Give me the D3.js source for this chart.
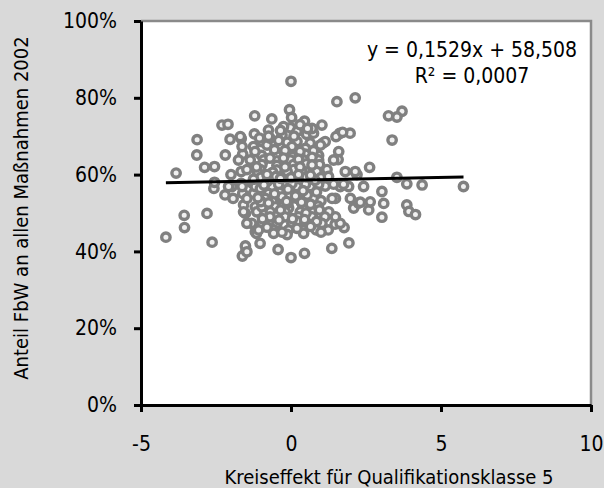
<!DOCTYPE html>
<html>
<head>
<meta charset="utf-8">
<script src="https://cdn.jsdelivr.net/npm/d3@7"></script>
<style>
  body { margin: 0; background: #d9d9d9; }
  svg { display: block; }
  .axis path, .axis line { stroke: #000; stroke-width: 3; }
  .axis text { font-family: "DejaVu Sans Condensed", "DejaVu Sans", sans-serif; font-size: 21px; fill: #000; }
  .label { font-family: "DejaVu Sans Condensed", "DejaVu Sans", sans-serif; font-size: 21px; fill: #000; }
  .title { font-family: "DejaVu Sans Condensed", "DejaVu Sans", sans-serif; font-size: 20px; fill: #000; }
</style>
</head>
<body>
<div id="graph"></div>
<script>
// Kreiseffekt (x) and Anteil FbW in % (y)
var effect = [
  0.00, 2.14, 1.53, 3.70, 3.53, 3.25, 3.37, -1.21, -0.05, -0.64,
  -2.30, -2.10, 1.03, 0.45, 0.02, -3.13, -3.14, -2.03, -1.66, -2.19,
  -2.55, -2.88, -3.83, -4.17, -3.56, -3.55, -2.80, -2.63, -2.57, -2.55,
  -2.20, -1.93, -1.62, -1.50, -1.52, -1.03, -0.43, 0.00, 0.45, 1.36,
  1.93, 1.77, 1.47, 2.09, 2.59, 3.03, 3.09, 3.03, 2.64, 2.25,
  2.62, 1.97, 1.62, 1.50, 1.57, 1.06, 3.53, 3.86, 4.37, 5.75,
  3.86, 3.93, 4.15, 2.20, 2.14, 1.81, 2.42, 2.31, 1.98, 1.92,
  1.64, 1.75, 1.48, 1.64, 1.48, 1.26, 1.24, 1.37, 1.42, 1.42,
  1.59, 1.20, 1.14, 1.14, 1.72, -1.69, -1.22, -1.61, -1.25, -1.63,
  -1.66, -1.31, -1.75, -1.36, -1.47, -1.97, -1.61, -1.25, -1.66, -1.28,
  -1.52, -1.31, -1.58, -1.19, -1.19, -1.47, -1.58, -1.14, -1.47, -1.15,
  -2.08, -1.63, -1.19, -1.47, -0.02, -0.75, -0.30, 0.52, -0.25, 0.20,
  0.75, -0.98, -0.58, -0.13, 0.20, 0.64, -0.80, -0.41, 0.03, 0.48,
  0.98, -0.98, -0.47, 0.03, 0.48, 0.92, -0.91, -0.47, -0.02, 0.42,
  0.92, -0.97, -0.47, 0.08, 0.51, 0.95, -1.02, -0.47, 0.09, 0.75,
  -1.12, -0.61, -0.13, 0.36, 0.86, -0.63, -0.25, 0.20, 0.64, -0.41,
  0.03, 0.48, 0.92, -1.02, -0.75, -0.86, -0.36, 0.20, 0.75, -0.30,
  0.15, 0.54, 1.00, -0.97, -0.52, -0.08, 0.40, -0.69, -0.19, 0.31,
  0.75, -0.70, -0.20, 0.25, 0.70, 1.13, -0.97, -0.47, 0.03, 0.53,
  1.03, -1.08, -0.58, -0.08, 0.41, 0.84, -0.58, -0.13, 0.42, -1.00,
  -0.50, 0.00, 0.50, 1.00, 0.30, -0.20, -0.70, 0.70, 0.30, -1.00,
  -0.10, 0.90, 0.20, -0.80, 0.80, -2.00, -0.75, -0.35, 0.10, 0.55,
  -1.05, -0.55, 0.75, -1.20, -0.25, 0.25, 0.70, -0.70, -1.15, -0.20,
  0.30, 0.70, -0.80, 0.25, 0.65, -0.35, -1.25, 1.25, -0.90, -0.10,
  0.40, 0.85, -0.55, -1.10, -0.15, 0.35, 0.65, -0.75, -0.35, 0.50,
  0.95, -0.95, -0.40, 0.05, 0.45, 0.85, -0.80, 0.20, 0.65, -0.30,
  1.00
];
var share = [
  84.3, 80.0, 79.0, 76.5, 75.0, 75.3, 69.0, 75.3, 76.9, 74.5,
  72.9, 73.1, 72.9, 73.9, 74.9, 69.1, 65.1, 69.2, 69.4, 65.1,
  62.1, 61.9, 60.4, 43.7, 49.4, 46.2, 49.9, 42.4, 56.4, 58.0,
  54.7, 53.8, 38.8, 40.3, 41.4, 42.1, 40.5, 38.4, 39.5, 40.8,
  42.2, 46.2, 47.1, 51.3, 50.8, 48.9, 52.5, 55.6, 52.9, 52.6,
  61.9, 70.8, 70.7, 69.9, 63.9, 68.2, 59.3, 57.6, 57.3, 56.9,
  52.1, 50.4, 49.6, 60.0, 60.8, 60.8, 56.9, 52.8, 53.8, 56.9,
  56.9, 57.5, 53.8, 47.3, 49.0, 50.3, 45.6, 53.8, 57.5, 63.8,
  66.0, 61.3, 68.6, 57.0, 71.0, 69.9, 70.6, 65.3, 67.3, 67.3,
  60.8, 62.5, 63.8, 63.8, 61.3, 56.9, 55.1, 55.1, 57.7, 57.7,
  49.9, 47.3, 52.1, 51.6, 45.1, 53.8, 50.3, 50.3, 47.3, 44.7,
  56.9, 56.9, 56.9, 39.9, 72.2, 71.6, 70.3, 70.5, 72.5, 71.2,
  70.8, 68.6, 67.9, 68.4, 68.6, 68.2, 67.7, 68.9, 67.3, 66.8,
  67.7, 65.0, 65.0, 64.7, 65.3, 65.0, 63.8, 63.6, 63.8, 63.8,
  63.8, 62.6, 62.4, 62.6, 62.8, 62.6, 61.3, 61.2, 61.3, 61.3,
  60.8, 60.6, 60.8, 60.8, 60.8, 56.9, 57.2, 56.9, 56.9, 57.5,
  57.7, 57.5, 57.5, 56.4, 55.1, 53.8, 53.8, 53.8, 53.8, 54.2,
  54.4, 54.7, 53.2, 51.6, 51.6, 51.3, 51.6, 50.3, 50.3, 50.3,
  50.3, 49.0, 49.0, 49.0, 49.0, 49.0, 47.3, 47.3, 47.3, 47.3,
  47.3, 45.6, 45.6, 45.6, 45.6, 45.6, 44.7, 44.4, 44.7, 59.3,
  59.5, 59.2, 59.4, 59.2, 66.0, 66.3, 69.5, 72.0, 73.0, 53.0,
  52.6, 51.8, 47.9, 58.2, 58.5, 60.0, 70.0, 71.5, 70.0, 72.0,
  69.5, 66.5, 66.2, 66.0, 64.3, 64.0, 64.5, 64.3, 62.0, 62.0,
  62.0, 62.5, 60.0, 60.0, 59.8, 59.0, 58.8, 59.5, 57.3, 56.2,
  55.8, 55.5, 55.0, 54.0, 53.0, 52.8, 52.3, 52.6, 50.8, 50.0,
  50.8, 48.5, 48.2, 48.5, 48.3, 47.8, 46.3, 46.0, 46.5, 45.0,
  45.0
];

var xTicks = [-5, 0, 5, 10];
var yTicks = [0, 20, 40, 60, 80, 100];

// trendline as printed in the chart
var slope = 0.1529;
var intercept = 58.508;
var equationText = "y = 0,1529x + 58,508";
var rSquaredText = "R² = 0,0007";

var margin = {top: 21, right: 13, bottom: 83, left: 141},
  width = 604 - margin.left - margin.right,
  height = 488 - margin.top - margin.bottom;

var x = d3.scaleLinear().domain([-5, 10]).range([0, width]);
var y = d3.scaleLinear().domain([0, 100]).range([height, 0]);

var svg = d3.select("#graph")
  .append("svg")
  .attr("width", 604)
  .attr("height", 488);

var g = svg.append("g")
  .attr("transform", "translate(" + margin.left + "," + margin.top + ")");

// plot area
g.append("rect")
  .attr("width", width)
  .attr("height", height)
  .attr("fill", "#fff");

// grey frame on top and right
g.append("path")
  .attr("d", "M0,0H" + width + "V" + height)
  .attr("fill", "none")
  .attr("stroke", "#8a8a8a")
  .attr("stroke-width", 2.5);

var data = effect.map(function (d, i) {
  return {x: d, y: share[i]};
});

// markers
g.selectAll("circle.pt")
  .data(data)
  .enter()
  .append("circle")
  .attr("class", "pt")
  .attr("cx", function (d) { return x(d.x); })
  .attr("cy", function (d) { return y(d.y); })
  .attr("r", 4.2)
  .attr("fill", "#f0f0f0")
  .attr("stroke", "#808080")
  .attr("stroke-width", 3.4);

// linear trendline over the data range
var xExtent = d3.extent(effect);
var trendline = d3.line()
  .x(function (d) { return x(d); })
  .y(function (d) { return y(slope * d + intercept); });

g.append("path")
  .datum(xExtent)
  .attr("d", trendline)
  .attr("fill", "none")
  .attr("stroke", "#000")
  .attr("stroke-width", 3);

// axes
g.append("g")
  .attr("class", "axis")
  .attr("transform", "translate(0," + height + ")")
  .call(d3.axisBottom(x).tickValues(xTicks).tickFormat(String)
    .tickSizeInner(7).tickSizeOuter(0).tickPadding(24));

g.append("g")
  .attr("class", "axis")
  .call(d3.axisLeft(y).tickValues(yTicks).tickFormat(function (d) { return d + "%"; })
    .tickSizeInner(7).tickSizeOuter(0).tickPadding(17));

// equation label
g.append("text")
  .attr("class", "label")
  .attr("x", 331)
  .attr("y", 36)
  .attr("text-anchor", "middle")
  .text(equationText);
g.append("text")
  .attr("class", "label")
  .attr("x", 331)
  .attr("y", 62)
  .attr("text-anchor", "middle")
  .text(rSquaredText);

// axis titles
svg.append("text")
  .attr("class", "title")
  .attr("x", 389)
  .attr("y", 484)
  .attr("text-anchor", "middle")
  .text("Kreiseffekt für Qualifikationsklasse 5");

svg.append("text")
  .attr("class", "title")
  .attr("transform", "translate(28,208) rotate(-90)")
  .attr("text-anchor", "middle")
  .text("Anteil FbW an allen Maßnahmen 2002");
</script>
</body>
</html>
